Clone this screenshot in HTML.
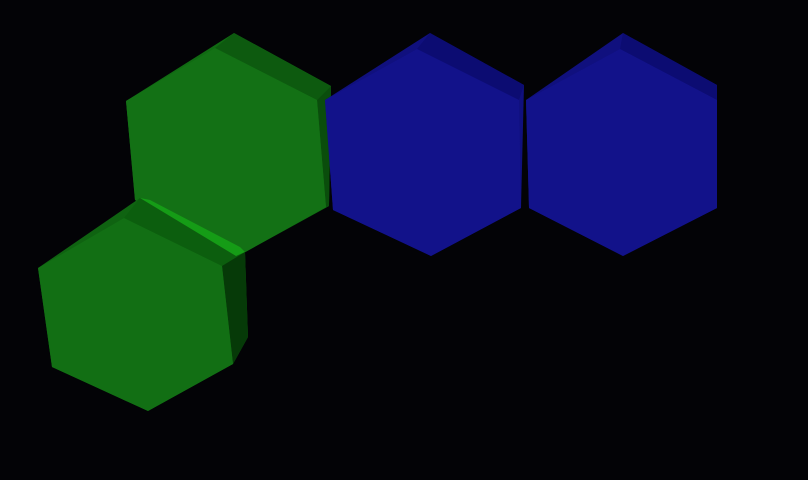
<!DOCTYPE html>
<html><head><meta charset="utf-8"><style>
html,body{margin:0;padding:0;background:#030306;width:808px;height:480px;overflow:hidden}
</style></head><body>
<svg width="808" height="480" viewBox="0 0 808 480" xmlns="http://www.w3.org/2000/svg">
<rect width="808" height="480" fill="#030306"/>
<g>
 <polygon points="126,101 234,33 331,86 329,206 240,255 135,200" fill="#106a12"/>
 <polygon points="215,48 234,33 331,86 317,100" fill="#0d5a0f"/>
 <polygon points="317,100 331,86 329,206 326,207" fill="#0a4d0c"/>
 <polygon points="126,101 215,48 317,100 326,207 240,255 135,200" fill="#137115"/>
</g>
<g>
 <polygon points="38,268 140,198 245,252 248,337 233,364 148,411 52,367" fill="#0f6311"/>
 <polygon points="124,218 140,198 245,252 222,266" fill="#0c5e0e"/>
 <polygon points="140,198 150,200 240,247 245,252 236,256" fill="#159c16"/>
 <polygon points="222,266 245,252 248,337 233,364" fill="#063a08"/>
 <polygon points="38,268 124,218 222,266 233,364 148,411 52,367" fill="#126f14"/>
</g>
<g>
 <polygon points="325,100 430,33 524,85 521,208 431,256 333,210" fill="#10107e"/>
 <polygon points="417,49 430,33 524,85 519,100" fill="#0c0c72"/>
 <polygon points="325,100 417,49 519,100 521,208 431,256 333,210" fill="#12128a"/>
</g>
<g>
 <polygon points="526,100 623,33 717,85 717,208 623,256 529,208" fill="#10107e"/>
 <polygon points="620,49 623,33 717,85 717,100" fill="#0c0c72"/>
 <polygon points="526,100 620,49 717,100 717,208 623,256 529,208" fill="#12128a"/>
</g>
</svg>
</body></html>
